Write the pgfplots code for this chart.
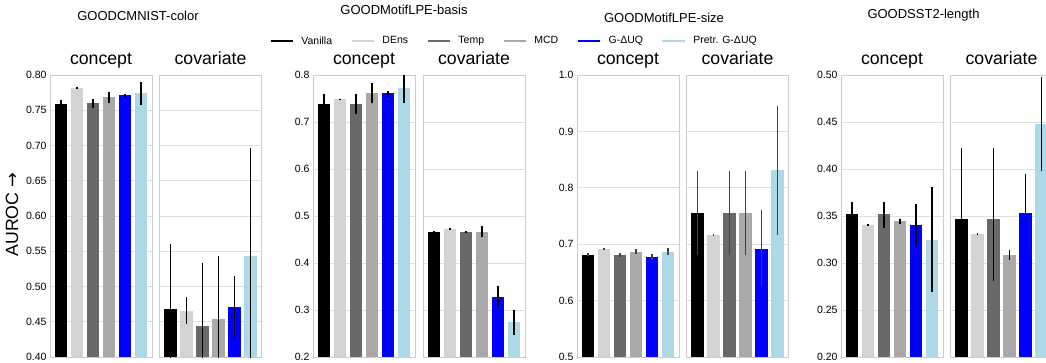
\documentclass[border=0pt]{standalone}
\usepackage{fontspec}
\setmainfont{Liberation Sans}
\newfontfamily\djv{DejaVu Sans}
\usepackage{pgfplots}
\pgfplotsset{compat=1.18}
\definecolor{cVan}{RGB}{0,0,0}
\definecolor{cDEns}{RGB}{211,211,211}
\definecolor{cTemp}{RGB}{105,105,105}
\definecolor{cMCD}{RGB}{169,169,169}
\definecolor{cG}{RGB}{0,0,255}
\definecolor{cPre}{RGB}{173,216,230}
\definecolor{gridc}{RGB}{224,224,224}
\definecolor{framec}{RGB}{204,204,204}
\definecolor{errdark}{RGB}{66,66,66}
\pgfplotsset{
  panel/.style={
    scale only axis, width=102pt, height=282pt, anchor=south west,
    xmin=-0.6875, xmax=5.6875, xtick=\empty,
    ymajorgrids, grid style={line width=0.8pt, color=gridc},
    axis line style={line width=0.8pt, color=framec},
    major tick length=0pt,
    tick label style={font=\fontsize{10.5}{12}\selectfont},
    /pgf/number format/assume math mode=true,
    title style={at={(0.5,1)}, anchor=base, yshift=5pt, inner sep=0pt, font=\fontsize{17.7}{20}\selectfont},
    ybar, bar width=0.8, bar shift=0pt,
  },
  concept/.style={panel, title=concept},
  covar/.style={panel, title=covariate, yticklabels={}},
  two/.style={/pgf/number format/.cd, fixed, fixed zerofill, precision=2},
  one/.style={/pgf/number format/.cd, fixed, fixed zerofill, precision=1},
  b/.style={fill=#1, draw=none, forget plot,
    error bars/.cd, y dir=both, y explicit, error mark=none,
    error bar style={line width=1.3pt, color=black}},
  bd/.style={fill=#1, draw=none, forget plot,
    error bars/.cd, y dir=both, y explicit, error mark=none,
    error bar style={line width=1.3pt, color=errdark}},
}
\begin{document}
\begin{tikzpicture}[x=1pt,y=1pt]
% ---------------- Group 1: GOODCMNIST-color ----------------
\begin{axis}[concept, at={(50pt,5pt)}, ymin=0.40, ymax=0.80, ytick={0.40,0.45,...,0.81},
  yticklabel style={two},
  ylabel={AUROC {\djv →}},
  ylabel style={at={(axis description cs:-0.372,0.505)}, anchor=center, font=\fontsize{17.7}{20}\selectfont}]
\addplot[b=cVan]  coordinates {(0,0.7590) += (0,0.0060) -= (0,0.0080)};
\addplot[b=cDEns] coordinates {(1,0.7816) += (0,0.0019) -= (0,0.0019)};
\addplot[b=cTemp] coordinates {(2,0.7603) += (0,0.0052) -= (0,0.0075)};
\addplot[b=cMCD]  coordinates {(3,0.7684) += (0,0.0080) -= (0,0.0085)};
\addplot[b=cG]    coordinates {(4,0.7717) += (0,0.0013) -= (0,0.0037)};
\addplot[b=cPre]  coordinates {(5,0.7745) += (0,0.0161) -= (0,0.0170)};
\end{axis}
\begin{axis}[covar, at={(159.5pt,5pt)}, ymin=0.40, ymax=0.80, ytick={0.40,0.45,...,0.81}]
\addplot[b=cVan]  coordinates {(0,0.4685) += (0,0.0916) -= (0,0.0916)};
\addplot[b=cDEns] coordinates {(1,0.4656) += (0,0.0189) -= (0,0.0189)};
\addplot[b=cTemp] coordinates {(2,0.4444) += (0,0.0888) -= (0,0.0888)};
\addplot[b=cMCD]  coordinates {(3,0.4543) += (0,0.0893) -= (0,0.0893)};
\addplot[b=cG]    coordinates {(4,0.4713) += (0,0.0430) -= (0,0.0444)};
\addplot[b=cPre]  coordinates {(5,0.5436) += (0,0.1525) -= (0,0.1525)};
\end{axis}
% ---------------- Group 2: GOODMotifLPE-basis ----------------
\begin{axis}[concept, at={(313pt,5pt)}, ymin=0.2, ymax=0.8, ytick={0.2,0.3,...,0.81},
  yticklabel style={one},
  legend style={at={(axis description cs:1.960,1.1206)}, anchor=center, draw=none, fill=none,
    font=\fontsize{10.5}{12}\selectfont,
    nodes={inner xsep=0pt, font=\fontsize{10.5}{12}\selectfont},
    /tikz/every odd column/.append style={column sep=7pt},
    /tikz/every even column/.append style={column sep=18pt}},
  legend columns=6,
  legend image code/.code={\draw[#1, line width=2.8pt] (0pt,0pt) -- (22.5pt,0pt);}]
\addlegendimage{color=cVan}\addlegendentry{Vanilla}
\addlegendimage{color=cDEns}\addlegendentry{DEns}
\addlegendimage{color=cTemp}\addlegendentry{Temp}
\addlegendimage{color=cMCD}\addlegendentry{MCD}
\addlegendimage{color=cG}\addlegendentry{G-ΔUQ}
\addlegendimage{color=cPre}\addlegendentry{Pretr. G-ΔUQ}
\addplot[b=cVan]  coordinates {(0,0.7375) += (0,0.0213) -= (0,0.0192)};
\addplot[b=cDEns] coordinates {(1,0.7482) += (0,0.0014) -= (0,0.0014)};
\addplot[b=cTemp] coordinates {(2,0.7375) += (0,0.0213) -= (0,0.0213)};
\addplot[b=cMCD]  coordinates {(3,0.7624) += (0,0.0213) -= (0,0.0228)};
\addplot[b=cG]    coordinates {(4,0.7610) += (0,0.0049) -= (0,0.0072)};
\addplot[b=cPre]  coordinates {(5,0.7716) += (0,0.0277) -= (0,0.0305)};
\end{axis}
\begin{axis}[covar, at={(423pt,5pt)}, ymin=0.2, ymax=0.8, ytick={0.2,0.3,...,0.81}]
\addplot[b=cVan]  coordinates {(0,0.4670) += (0,0.0020) -= (0,0.0020)};
\addplot[b=cDEns] coordinates {(1,0.4727) += (0,0.0015) -= (0,0.0015)};
\addplot[b=cTemp] coordinates {(2,0.4670) += (0,0.0015) -= (0,0.0015)};
\addplot[b=cMCD]  coordinates {(3,0.4670) += (0,0.0114) -= (0,0.0114)};
\addplot[b=cG]    coordinates {(4,0.3285) += (0,0.0235) -= (0,0.0220)};
\addplot[b=cPre]  coordinates {(5,0.2738) += (0,0.0256) -= (0,0.0262)};
\end{axis}
% ---------------- Group 3: GOODMotifLPE-size ----------------
\begin{axis}[concept, at={(577pt,5pt)}, ymin=0.5, ymax=1.0, ytick={0.5,0.6,...,1.01},
  yticklabel style={one}]
\addplot[bd=cVan]  coordinates {(0,0.6817) += (0,0.0030) -= (0,0.0030)};
\addplot[bd=cDEns] coordinates {(1,0.6923) += (0,0.0012) -= (0,0.0012)};
\addplot[bd=cTemp] coordinates {(2,0.6817) += (0,0.0035) -= (0,0.0042)};
\addplot[bd=cMCD]  coordinates {(3,0.6870) += (0,0.0041) -= (0,0.0048)};
\addplot[bd=cG]    coordinates {(4,0.6781) += (0,0.0053) -= (0,0.0053)};
\addplot[bd=cPre]  coordinates {(5,0.6870) += (0,0.0059) -= (0,0.0053)};
\end{axis}
\begin{axis}[covar, at={(686.5pt,5pt)}, ymin=0.5, ymax=1.0, ytick={0.5,0.6,...,1.01}]
\addplot[bd=cVan]  coordinates {(0,0.7562) += (0,0.0740) -= (0,0.0745)};
\addplot[bd=cDEns] coordinates {(1,0.7172) += (0,0.0015) -= (0,0.0015)};
\addplot[bd=cTemp] coordinates {(2,0.7562) += (0,0.0740) -= (0,0.0745)};
\addplot[bd=cMCD]  coordinates {(3,0.7562) += (0,0.0740) -= (0,0.0745)};
\addplot[bd=cG]    coordinates {(4,0.6923) += (0,0.0675) -= (0,0.0680)};
\addplot[bd=cPre]  coordinates {(5,0.8308) += (0,0.1136) -= (0,0.1136)};
\end{axis}
% ---------------- Group 4: GOODSST2-length ----------------
\begin{axis}[concept, at={(841pt,5pt)}, ymin=0.20, ymax=0.50, ytick={0.20,0.25,...,0.51},
  yticklabel style={two}]
\addplot[b=cVan]  coordinates {(0,0.3516) += (0,0.0135) -= (0,0.0142)};
\addplot[b=cDEns] coordinates {(1,0.3409) += (0,0.0008) -= (0,0.0008)};
\addplot[b=cTemp] coordinates {(2,0.3516) += (0,0.0135) -= (0,0.0146)};
\addplot[b=cMCD]  coordinates {(3,0.3452) += (0,0.0021) -= (0,0.0035)};
\addplot[b=cG]    coordinates {(4,0.3399) += (0,0.0234) -= (0,0.0238)};
\addplot[b=cPre]  coordinates {(5,0.3250) += (0,0.0561) -= (0,0.0561)};
\end{axis}
\begin{axis}[covar, at={(950.5pt,5pt)}, ymin=0.20, ymax=0.50, ytick={0.20,0.25,...,0.51}]
\addplot[b=cVan]  coordinates {(0,0.3463) += (0,0.0756) -= (0,0.0756)};
\addplot[b=cDEns] coordinates {(1,0.3310) += (0,0.0006) -= (0,0.0006)};
\addplot[b=cTemp] coordinates {(2,0.3463) += (0,0.0756) -= (0,0.0657)};
\addplot[b=cMCD]  coordinates {(3,0.3090) += (0,0.0053) -= (0,0.0060)};
\addplot[b=cG]    coordinates {(4,0.3527) += (0,0.0415) -= (0,0.0437)};
\addplot[b=cPre]  coordinates {(5,0.4475) += (0,0.0500) -= (0,0.0497)};
\end{axis}
% group titles
\begin{scope}[every node/.style={font=\fontsize{13}{15}\selectfont, anchor=base, inner sep=0pt}]
\node at (138pt,341.3pt) {GOODCMNIST-color};
\node at (404pt,347.7pt) {GOODMotifLPE-basis};
\node at (664pt,339.7pt) {GOODMotifLPE-size};
\node at (923.5pt,343.7pt) {GOODSST2-length};
\end{scope}
\pgfresetboundingbox
\useasboundingbox (0pt,0pt) rectangle (1046pt,362pt);
\end{tikzpicture}
\end{document}
